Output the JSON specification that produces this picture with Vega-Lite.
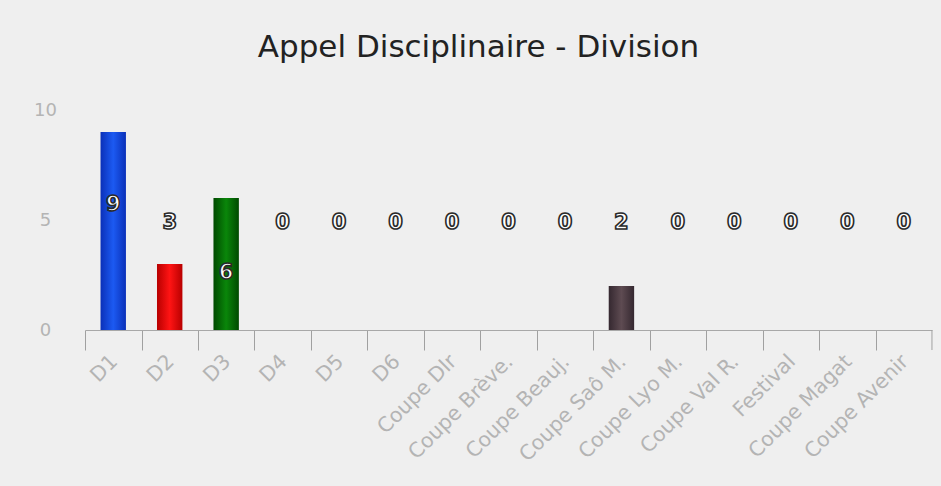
{
  "$schema": "https://vega.github.io/schema/vega-lite/v6.json",
  "width": 847,
  "height": 220,
  "autosize": "none",
  "padding": {"left": 85, "top": 110, "right": 9, "bottom": 156},
  "background": "#efefef",
  "title": {
    "text": "Appel Disciplinaire - Division",
    "fontSize": 31,
    "font": "DejaVu Sans",
    "fontWeight": "normal",
    "color": "#222222",
    "anchor": "middle",
    "dx": -30,
    "offset": 37
  },
  "data": {
    "values": [
      {"division": "D1", "count": 9},
      {"division": "D2", "count": 3},
      {"division": "D3", "count": 6},
      {"division": "D4", "count": 0},
      {"division": "D5", "count": 0},
      {"division": "D6", "count": 0},
      {"division": "Coupe Dlr", "count": 0},
      {"division": "Coupe Brève.", "count": 0},
      {"division": "Coupe Beauj.", "count": 0},
      {"division": "Coupe Saô M.", "count": 2},
      {"division": "Coupe Lyo M.", "count": 0},
      {"division": "Coupe Val R.", "count": 0},
      {"division": "Festival", "count": 0},
      {"division": "Coupe Magat", "count": 0},
      {"division": "Coupe Avenir", "count": 0}
    ]
  },
  "encoding": {
    "x": {
      "field": "division",
      "type": "nominal",
      "sort": null,
      "scale": {"paddingInner": 0.55, "paddingOuter": 0.275},
      "axis": {
        "title": null,
        "labelAngle": -45,
        "labelAlign": "right",
        "labelBaseline": "top",
        "labelFont": "DejaVu Sans",
        "labelFontSize": 20.5,
        "labelColor": "#b4b4b4",
        "labelPadding": 1,
        "tickSize": 20,
        "tickOffset": -28.2,
        "labelOffset": 22,
        "tickColor": "#a0a0a0",
        "domainColor": "#a8a8a8",
        "labelBound": false,
        "labelOverlap": false,
        "labelLimit": 250
      }
    },
    "y": {
      "field": "count",
      "type": "quantitative",
      "scale": {"domain": [0, 10], "nice": false},
      "axis": {
        "title": null,
        "values": [0, 5, 10],
        "domain": false,
        "ticks": false,
        "tickSize": 0,
        "grid": false,
        "labelAlign": "center",
        "labelPadding": 40,
        "labelFont": "DejaVu Sans",
        "labelFontSize": 18,
        "labelColor": "#b4b4b4"
      }
    }
  },
  "layer": [
    {
      "transform": [{"filter": "datum.division == 'D1'"}],
      "mark": {"type": "bar", "color": {"gradient": "linear", "x1": 0, "x2": 1, "y1": 0, "y2": 0, "stops": [{"offset": 0, "color": "#0a30b8"}, {"offset": 0.5, "color": "#1c5af2"}, {"offset": 1, "color": "#0a30b8"}]}}
    },
    {
      "transform": [{"filter": "datum.division == 'D2'"}],
      "mark": {"type": "bar", "color": {"gradient": "linear", "x1": 0, "x2": 1, "y1": 0, "y2": 0, "stops": [{"offset": 0, "color": "#b80000"}, {"offset": 0.5, "color": "#ff1414"}, {"offset": 1, "color": "#b80000"}]}}
    },
    {
      "transform": [{"filter": "datum.division == 'D3'"}],
      "mark": {"type": "bar", "color": {"gradient": "linear", "x1": 0, "x2": 1, "y1": 0, "y2": 0, "stops": [{"offset": 0, "color": "#004a00"}, {"offset": 0.5, "color": "#0a860a"}, {"offset": 1, "color": "#004a00"}]}}
    },
    {
      "transform": [{"filter": "datum.division != 'D1' && datum.division != 'D2' && datum.division != 'D3'"}],
      "mark": {"type": "bar", "color": {"gradient": "linear", "x1": 0, "x2": 1, "y1": 0, "y2": 0, "stops": [{"offset": 0, "color": "#352830"}, {"offset": 0.5, "color": "#5e4b52"}, {"offset": 1, "color": "#352830"}]}}
    },
    {
      "transform": [{"filter": "datum.division == 'Coupe Avenir'"}],
      "mark": {"type": "rule", "color": "#a0a0a0", "xOffset": 28.2},
      "encoding": {"y": {"datum": 0}, "y2": {"datum": -0.91}}
    },
    {
      "transform": [{"filter": "datum.count <= 3"}],
      "mark": {"type": "text", "fontSize": 21, "fontWeight": "bold", "font": "DejaVu Sans", "fill": "#ffffff", "stroke": "#2a2a2a", "strokeWidth": 1.6},
      "encoding": {"y": {"datum": 4.85}, "text": {"field": "count", "type": "quantitative"}}
    },
    {
      "transform": [{"filter": "datum.count == 9"}],
      "mark": {"type": "text", "fontSize": 21, "fontWeight": "bold", "font": "DejaVu Sans", "fill": "#ffffff", "stroke": "#2a2a2a", "strokeWidth": 1.6},
      "encoding": {"y": {"datum": 5.7}, "text": {"field": "count", "type": "quantitative"}}
    },
    {
      "transform": [{"filter": "datum.count == 6"}],
      "mark": {"type": "text", "fontSize": 21, "fontWeight": "bold", "font": "DejaVu Sans", "fill": "#ffffff", "stroke": "#2a2a2a", "strokeWidth": 1.6},
      "encoding": {"y": {"datum": 2.6}, "text": {"field": "count", "type": "quantitative"}}
    }
  ],
  "config": {"view": {"stroke": null}}
}
